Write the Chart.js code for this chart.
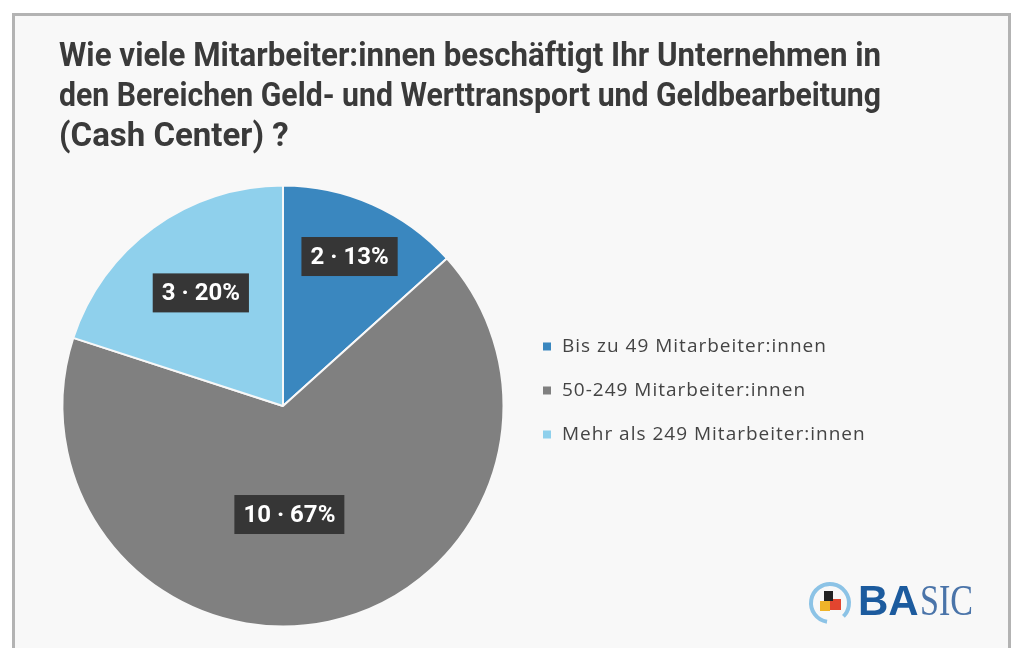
<!DOCTYPE html>
<html lang="de">
<head>
<meta charset="utf-8">
<title>Mitarbeiter:innen Geld- und Werttransport</title>
<script src="https://cdn.jsdelivr.net/npm/chart.js@4.4.1/dist/chart.umd.min.js"></script>
<style>
  html, body { margin: 0; padding: 0; background: #fff; overflow: hidden; }
  #frame {
    position: absolute; left: 12px; top: 13px;
    width: 993px; height: 650px;
    border: 3px solid #b3b3b3; border-bottom: none;
    background: #f8f8f8;
  }
  canvas { display: block; }
</style>
</head>
<body>
<div id="frame"><canvas id="chart" width="993" height="632"></canvas></div>
<script>
const titleLines = [
  'Wie viele Mitarbeiter:innen beschäftigt Ihr Unternehmen in',
  'den Bereichen Geld- und Werttransport und Geldbearbeitung',
  '(Cash Center) ?'
];
const categories = ['Bis zu 49 Mitarbeiter:innen', '50-249 Mitarbeiter:innen', 'Mehr als 249 Mitarbeiter:innen'];
const counts = [2, 10, 3];
const sliceColors = ['#3a87bf', '#808080', '#8fd0ec'];

// where each value box sits in its slice: share of the slice angle, share of the radius
const labelAngleShare = [0.5, 0.536, 0.5];
const labelRadiusShare = [0.742, 0.493, 0.634];

const textColor = '#3a3a3a';

// legend drawn in its own layout box on the right, so the pie stays where it is
const sideLegend = {
  id: 'sideLegend',
  beforeInit(chart) {
    const box = {
      position: 'right',
      weight: 10,
      fullSize: false,
      options: {},
      isHorizontal() { return false; },
      update(maxWidth, maxHeight) {
        this.width = 374;
        this.height = maxHeight;
      },
      draw() {
        const ctx = chart.ctx;
        const colors = chart.data.datasets[0].backgroundColor;
        ctx.save();
        ctx.font = '19px "Open Sans"';
        ctx.letterSpacing = '1px';
        ctx.textBaseline = 'middle';
        ctx.textAlign = 'left';
        chart.data.labels.forEach((label, i) => {
          const y = this.top + 162 + i * 44;
          ctx.fillStyle = colors[i];
          ctx.fillRect(this.left + 36, y - 4, 8, 8);
          ctx.fillStyle = '#444';
          ctx.fillText(label, this.left + 55, y);
        });
        ctx.restore();
      }
    };
    Chart.layouts.addBox(chart, box);
  }
};

const valueBoxes = {
  id: 'valueBoxes',
  afterDatasetsDraw(chart) {
    const ctx = chart.ctx;
    const meta = chart.getDatasetMeta(0);
    const total = counts.reduce((a, b) => a + b, 0);
    ctx.save();
    ctx.font = 'bold 24px Roboto';
    ctx.textAlign = 'center';
    ctx.textBaseline = 'middle';
    meta.data.forEach((arc, i) => {
      const p = arc.getProps(['x', 'y', 'startAngle', 'endAngle', 'outerRadius'], true);
      const a = p.startAngle + (p.endAngle - p.startAngle) * labelAngleShare[i];
      const r = p.outerRadius * labelRadiusShare[i];
      const cx = p.x + Math.cos(a) * r;
      const cy = p.y + Math.sin(a) * r;
      const text = counts[i] + ' \u00b7 ' + Math.round(counts[i] / total * 100) + '%';
      const w = ctx.measureText(text).width + 18;
      ctx.fillStyle = '#363636';
      ctx.fillRect(cx - w / 2, cy - 19.5, w, 39);
      ctx.fillStyle = '#fff';
      ctx.fillText(text, cx, cy + 1);
    });
    ctx.restore();
  }
};

// BASIC logo, bottom right
const logo = {
  id: 'logo',
  afterDraw(chart) {
    const ctx = chart.ctx;
    ctx.save();
    ctx.lineWidth = 4;
    ctx.strokeStyle = '#8cc3e6';
    ctx.beginPath();
    ctx.arc(815, 587, 19, 0.55 * Math.PI, 2.25 * Math.PI);
    ctx.stroke();
    ctx.fillStyle = '#f0b429';
    ctx.fillRect(805, 585, 10, 10);
    ctx.fillStyle = '#e2452f';
    ctx.fillRect(815, 583, 11, 11);
    ctx.fillStyle = '#222';
    ctx.fillRect(809, 575, 9, 10);
    ctx.textBaseline = 'alphabetic';
    ctx.fillStyle = '#1c5b9e';
    ctx.font = 'bold 42px "Liberation Sans"';
    ctx.fillText('BA', 843, 599, 62);
    ctx.fillStyle = '#4a74a9';
    ctx.font = '44px "Liberation Serif"';
    ctx.fillText('SIC', 905, 599, 53);
    ctx.restore();
  }
};

new Chart(document.getElementById('chart'), {
  type: 'pie',
  data: {
    labels: categories,
    datasets: [{
      data: counts,
      backgroundColor: sliceColors,
      borderColor: '#f8f8f8',
      borderWidth: 2
    }]
  },
  options: {
    responsive: false,
    animation: false,
    // right padding narrows the title box so its lines are condensed to the reference width
    layout: { padding: { left: 44, right: 127, top: 0, bottom: 20.5 } },
    plugins: {
      legend: { display: false },
      tooltip: { enabled: false },
      title: {
        display: true,
        text: titleLines,
        align: 'start',
        color: textColor,
        font: { family: 'Roboto', size: 33, weight: 'bold', lineHeight: 1.212 },
        padding: { top: 22, bottom: 26.5 }
      }
    }
  },
  plugins: [sideLegend, valueBoxes, logo]
});
</script>
</body>
</html>
